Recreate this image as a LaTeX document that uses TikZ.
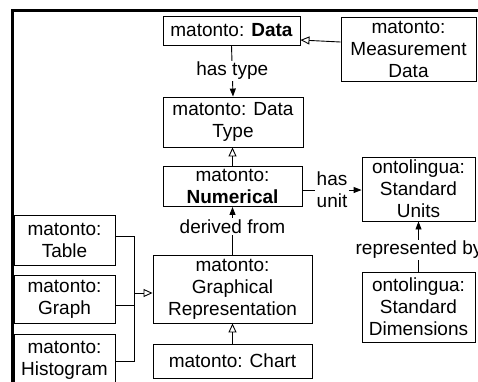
\documentclass[tikz,border=0pt]{standalone}
\usepackage{fontspec}
\setmainfont{Liberation Sans}
\usetikzlibrary{arrows.meta}
\begin{document}
\begin{tikzpicture}[x=1pt,y=-1pt,
  every node/.style={font=\fontsize{19}{22}\selectfont},
  box/.style={draw, line width=0.9pt, align=center, inner sep=0pt},
  lbl/.style={fill=white, inner sep=1.5pt, align=center},
  gen/.style={line width=0.9pt, -{Triangle[open, length=9pt, width=8pt]}},
  rel/.style={line width=0.9pt, -{Triangle[length=8pt, width=6pt]}},
  ln/.style={line width=0.9pt}]
\useasboundingbox (0,0) rectangle (478,381);
% frame
\draw[line width=3pt] (12.5,385) -- (12.5,10.5) -- (480,10.5);
% nodes
\node[box, minimum width=137pt, minimum height=29pt] (data) at (231.5,30.5) {matonto: \textbf{Data}};
\node[box, minimum width=135pt, minimum height=64pt] (meas) at (408.5,49) {matonto:\\Measurement\\Data};
\node[box, minimum width=140pt, minimum height=50pt] (dtype) at (233,122) {matonto: Data\\Type};
\node[box, minimum width=139pt, minimum height=40pt] (num) at (232.5,186.5) {matonto:\\\textbf{Numerical}};
\node[box, minimum width=113pt, minimum height=64pt] (units) at (418.5,189) {ontolingua:\\Standard\\Units};
\node[box, minimum width=113pt, minimum height=70pt] (dims) at (418.5,307) {ontolingua:\\Standard\\Dimensions};
\node[box, minimum width=159pt, minimum height=68pt] (gr) at (232.5,289) {matonto:\\Graphical\\Representation};
\node[box, minimum width=159pt, minimum height=34pt] (chart) at (232.5,361) {matonto: Chart};
\node[box, minimum width=101pt, minimum height=50pt] (table) at (64.5,240) {matonto:\\Table};
\node[box, minimum width=101pt, minimum height=48pt] (graph) at (64.5,299) {matonto:\\Graph};
\node[box, minimum width=101pt, minimum height=52pt] (hist) at (64.5,360) {matonto:\\Histogram};
% connectors
\draw[gen] (meas.west |- 0,42) -- (data.east |- 0,40);
\draw[rel] (data.south) -- node[lbl] {has type} (dtype.north);
\draw[gen] (num.north) -- (num.north |- dtype.south);
\draw[rel] (num.east |- 0,190) -- node[lbl, pos=0.5] {has\\unit} (units.west |- 0,190);
\draw[rel] (gr.north) -- node[lbl, pos=0.58] {derived from} (num.south);
\draw[rel] (dims.north) -- (units.south);
\node[lbl] (rep) at (419,250) {represented by};
\draw[gen] (chart.north) -- (gr.south);
\coordinate (j) at (134,293);
\draw[ln] (table.east |- 0,236) -| (134,361) -- (hist.east |- 0,361);
\draw[ln] (graph.east |- 0,305) -- (134,305);
\draw[gen] (j) -- (gr.west |- j);
\end{tikzpicture}
\end{document}
